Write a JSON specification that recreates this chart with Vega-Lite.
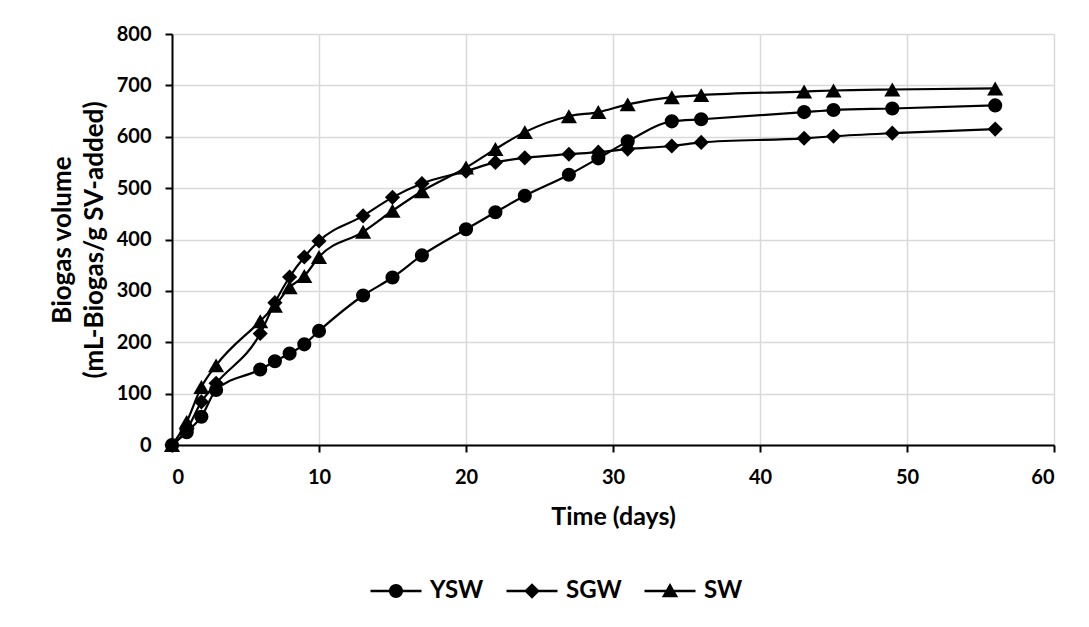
{
  "$schema": "https://vega.github.io/schema/vega-lite/v6.json",
  "width": 882,
  "height": 411,
  "autosize": {"type": "none"},
  "padding": {"left": 172, "top": 34, "right": 35, "bottom": 182},
  "background": "white",
  "config": {
    "font": "Lato",
    "view": {"stroke": null},
    "axis": {
      "labelFont": "Lato", "labelFontWeight": "bold", "labelFontSize": 20, "labelColor": "black",
      "titleFont": "Lato", "titleFontWeight": "bold", "titleFontSize": 25, "titleColor": "black",
      "domainColor": "black", "domainWidth": 2, "tickColor": "black", "tickWidth": 2, "tickSize": 7,
      "gridColor": "#d9d9d9", "gridWidth": 1.5
    },
    "legend": {
      "symbolFillColor": "black", "symbolOpacity": 1
    }
  },
  "data": {"values": [
    {"series": "YSW", "day": 0, "volume": 0},
    {"series": "YSW", "day": 1, "volume": 25},
    {"series": "YSW", "day": 2, "volume": 55},
    {"series": "YSW", "day": 3, "volume": 107},
    {"series": "YSW", "day": 6, "volume": 147},
    {"series": "YSW", "day": 7, "volume": 163},
    {"series": "YSW", "day": 8, "volume": 178},
    {"series": "YSW", "day": 9, "volume": 196},
    {"series": "YSW", "day": 10, "volume": 222},
    {"series": "YSW", "day": 13, "volume": 291},
    {"series": "YSW", "day": 15, "volume": 326},
    {"series": "YSW", "day": 17, "volume": 369},
    {"series": "YSW", "day": 20, "volume": 420},
    {"series": "YSW", "day": 22, "volume": 453},
    {"series": "YSW", "day": 24, "volume": 485},
    {"series": "YSW", "day": 27, "volume": 526},
    {"series": "YSW", "day": 29, "volume": 558},
    {"series": "YSW", "day": 31, "volume": 591},
    {"series": "YSW", "day": 34, "volume": 630},
    {"series": "YSW", "day": 36, "volume": 634},
    {"series": "YSW", "day": 43, "volume": 648},
    {"series": "YSW", "day": 45, "volume": 652},
    {"series": "YSW", "day": 49, "volume": 655},
    {"series": "YSW", "day": 56, "volume": 661},
    {"series": "SGW", "day": 0, "volume": 0},
    {"series": "SGW", "day": 1, "volume": 30},
    {"series": "SGW", "day": 2, "volume": 84},
    {"series": "SGW", "day": 3, "volume": 120},
    {"series": "SGW", "day": 6, "volume": 217},
    {"series": "SGW", "day": 7, "volume": 277},
    {"series": "SGW", "day": 8, "volume": 327},
    {"series": "SGW", "day": 9, "volume": 366},
    {"series": "SGW", "day": 10, "volume": 397},
    {"series": "SGW", "day": 13, "volume": 446},
    {"series": "SGW", "day": 15, "volume": 482},
    {"series": "SGW", "day": 17, "volume": 509},
    {"series": "SGW", "day": 20, "volume": 533},
    {"series": "SGW", "day": 22, "volume": 550},
    {"series": "SGW", "day": 24, "volume": 559},
    {"series": "SGW", "day": 27, "volume": 566},
    {"series": "SGW", "day": 29, "volume": 570},
    {"series": "SGW", "day": 31, "volume": 576},
    {"series": "SGW", "day": 34, "volume": 582},
    {"series": "SGW", "day": 36, "volume": 589},
    {"series": "SGW", "day": 43, "volume": 597},
    {"series": "SGW", "day": 45, "volume": 601},
    {"series": "SGW", "day": 49, "volume": 607},
    {"series": "SGW", "day": 56, "volume": 615},
    {"series": "SW", "day": 0, "volume": 0},
    {"series": "SW", "day": 1, "volume": 45},
    {"series": "SW", "day": 2, "volume": 113},
    {"series": "SW", "day": 3, "volume": 155},
    {"series": "SW", "day": 6, "volume": 241},
    {"series": "SW", "day": 7, "volume": 271},
    {"series": "SW", "day": 8, "volume": 307},
    {"series": "SW", "day": 9, "volume": 329},
    {"series": "SW", "day": 10, "volume": 366},
    {"series": "SW", "day": 13, "volume": 415},
    {"series": "SW", "day": 15, "volume": 456},
    {"series": "SW", "day": 17, "volume": 494},
    {"series": "SW", "day": 20, "volume": 540},
    {"series": "SW", "day": 22, "volume": 576},
    {"series": "SW", "day": 24, "volume": 609},
    {"series": "SW", "day": 27, "volume": 640},
    {"series": "SW", "day": 29, "volume": 648},
    {"series": "SW", "day": 31, "volume": 663},
    {"series": "SW", "day": 34, "volume": 677},
    {"series": "SW", "day": 36, "volume": 681},
    {"series": "SW", "day": 43, "volume": 688},
    {"series": "SW", "day": 45, "volume": 690},
    {"series": "SW", "day": 49, "volume": 692},
    {"series": "SW", "day": 56, "volume": 694}
  ]},
  "encoding": {
    "x": {
      "field": "day", "type": "quantitative",
      "scale": {"domain": [0, 60], "nice": false, "zero": true},
      "axis": {"values": [0, 10, 20, 30, 40, 50, 60], "title": "Time (days)", "labelPadding": 15, "titleX": 441, "titleY": 71, "titleBaseline": "middle", "titleAlign": "center"}
    },
    "y": {
      "field": "volume", "type": "quantitative",
      "scale": {"domain": [0, 800], "nice": false},
      "axis": {"values": [0, 100, 200, 300, 400, 500, 600, 700, 800], "title": ["Biogas volume", "(mL-Biogas/g SV-added)"], "titleFontSize": 26, "titleLineHeight": 32, "labelPadding": 14, "titleX": -110, "titleY": 205.5, "titleBaseline": "middle", "titleAlign": "center", "titleAngle": -90}
    }
  },
  "layer": [
    {
      "mark": {"type": "line", "color": "black", "strokeWidth": 2.2, "interpolate": "monotone"},
      "encoding": {"detail": {"field": "series", "type": "nominal"}}
    },
    {
      "mark": {"type": "point", "filled": true, "color": "black", "opacity": 1},
      "encoding": {
        "shape": {"field": "series", "type": "nominal", "scale": {"domain": ["YSW", "SGW", "SW"], "range": ["circle", "diamond", "triangle-up"]}, "legend": null},
        "size": {"field": "series", "type": "nominal", "scale": {"domain": ["YSW", "SGW", "SW"], "range": [200, 260, 280]}, "legend": null}
      }
    },
    {
      "transform": [{"filter": {"field": "series", "equal": "none"}}],
      "mark": {"type": "point", "filled": true, "color": "black", "opacity": 1},
      "encoding": {
        "shape": {
          "field": "series", "type": "nominal",
          "scale": {"domain": ["YSW", "SGW", "SW"], "range": [
            "M-2.55,-0.12H2.55V0.12H-2.55ZM0.7,0A0.7,0.7,0,1,1,-0.7,0A0.7,0.7,0,1,1,0.7,0Z",
            "M-2.55,-0.12H2.55V0.12H-2.55ZM0,-0.78L0.78,0L0,0.78L-0.78,0Z",
            "M-2.55,-0.12H2.55V0.12H-2.55ZM0,-0.8L0.82,0.62L-0.82,0.62Z"
          ]},
          "legend": {
            "title": null, "orient": "none", "direction": "horizontal",
            "legendX": 212, "legendY": 545,
            "symbolSize": 400, "labelOffset": 22, "columnPadding": 19,
            "symbolFillColor": "black", "symbolOpacity": 1,
            "labelFont": "Lato", "labelFontWeight": "bold", "labelFontSize": 24, "labelColor": "black"
          }
        }
      }
    }
  ],
  "resolve": {"scale": {"shape": "independent", "size": "independent"}, "legend": {"shape": "independent"}}
}
